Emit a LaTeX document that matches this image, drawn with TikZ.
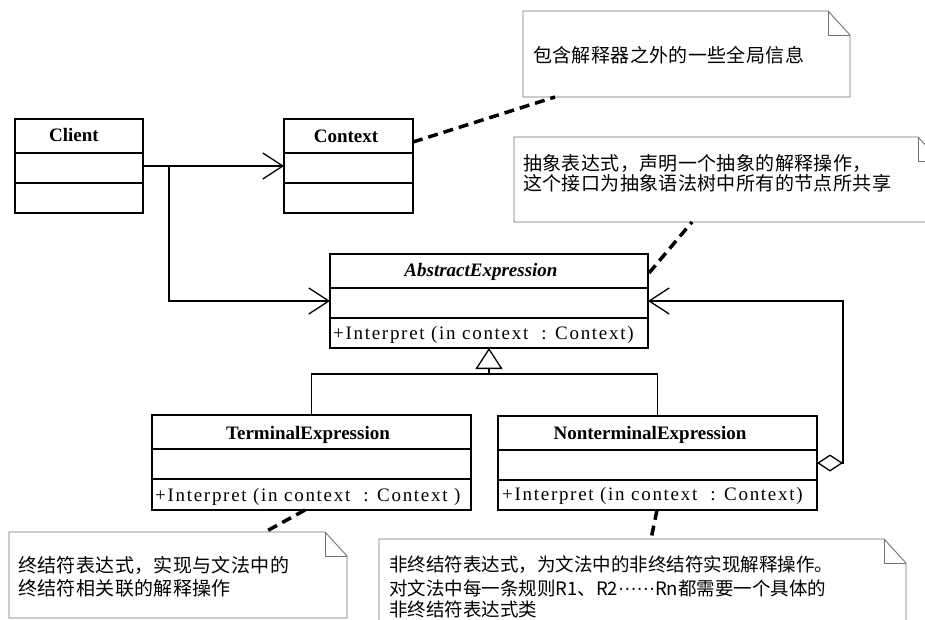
\documentclass[tikz,border=0pt]{standalone}
\usepackage{fontspec}
\setmainfont{Liberation Serif}
\newfontfamily\cjk[LetterSpace=2]{Noto Sans CJK SC}
\newfontfamily\cjkn[LetterSpace=0]{Noto Sans CJK SC}
\newfontfamily\opfont[LetterSpace=9]{Liberation Serif}
\newfontfamily\dotfont{Liberation Serif}
\usetikzlibrary{arrows.meta,calc}
\tikzset{
  clsbox/.style={draw=black,line width=1.8pt,outer sep=0pt,inner sep=0pt,fill=white},
  comp/.style={line width=1.8pt},
  ttl/.style={anchor=base,inner sep=0pt,font=\fontsize{19}{22}\selectfont\bfseries},
  ttli/.style={ttl,font=\fontsize{19}{22}\selectfont\bfseries\itshape},
  op/.style={anchor=base west,inner sep=0pt,font=\opfont\fontsize{19}{21}\selectfont},
  notebox/.style={outer sep=0pt,inner sep=0pt},
  noteline/.style={draw=gray!90!black,line width=0.9pt,fill=white},
  ntxt/.style={anchor=base west,inner sep=0pt,font=\cjk\fontsize{19}{21}\selectfont},
  ntxtn/.style={anchor=base west,inner sep=0pt,font=\cjkn\fontsize{18.5}{21}\selectfont},
  notelink/.style={line width=3.5pt,dash pattern=on 10pt off 6pt},
  conn/.style={line width=1.3pt},
  assoc/.style={conn,-{Straight Barb[length=20pt,width=26pt,line width=1.3pt]}},
  inherit/.style={conn,-{Triangle[open,length=21pt,width=27pt,fill=white,line width=1.3pt]}},
  aggr/.style={conn,{Diamond[open,length=26pt,width=17pt,fill=white,line width=1.3pt]}-{Straight Barb[length=20pt,width=26pt,line width=1.3pt]}}
}
\newcommand\drawnote[1]{%
  \draw[noteline] (#1.north west) -- ([xshift=-22pt]#1.north east) -- ([yshift=-24pt]#1.north east) -- (#1.south east) -- (#1.south west) -- cycle;
  \draw[noteline,fill=none] ([xshift=-22pt]#1.north east) |- ([yshift=-24pt]#1.north east);}
\newcommand\comps[1]{%
  \draw[comp] ($(#1.north west)+(0,34)$) -- ($(#1.north east)+(0,34)$);
  \draw[comp] ($(#1.north west)+(0,64)$) -- ($(#1.north east)+(0,64)$);}
\begin{document}
\begin{tikzpicture}[x=1pt,y=-1pt]
\useasboundingbox (0,0) rectangle (925,620);
\clip (0,0) rectangle (925,620);
\fill[white] (0,0) rectangle (925,620);

% notes
\node[notebox,minimum width=327pt,minimum height=86pt] (n1) at (686.5,54) {};
\node[notebox,minimum width=426pt,minimum height=85pt] (n2) at (727,179.5) {};
\node[notebox,minimum width=338pt,minimum height=86pt] (n3) at (178,575) {};
\node[notebox,minimum width=527pt,minimum height=101pt] (n4) at (642.5,589.5) {};
\drawnote{n1}\drawnote{n2}\drawnote{n3}\drawnote{n4}
\node[ntxt] (n1a) at (533,63) {包含解释器之外的一些全局信息};
\node[ntxt] (n2a) at (523,171) {抽象表达式，声明一个抽象的解释操作，};
\node[ntxt] (n2b) at (523,190.5) {这个接口为抽象语法树中所有的节点所共享};
\node[ntxt] (n3a) at (18,572) {终结符表达式，实现与文法中的};
\node[ntxt] (n3b) at (18,595) {终结符相关联的解释操作};
\node[ntxtn] (n4a) at (389,571.5) {非终结符表达式，为文法中的非终结符实现解释操作。};
\node[ntxtn] (n4b) at (389,595.5) {对文法中每一条规则R1、R2{\dotfont ······}Rn都需要一个具体的};
\node[ntxtn] (n4c) at (389,616.5) {非终结符表达式类};

% classes
\node[clsbox,minimum width=128pt,minimum height=94pt] (client) at (79,166) {};
\node[clsbox,minimum width=129pt,minimum height=94pt] (context) at (348.5,166) {};
\node[clsbox,minimum width=318pt,minimum height=94pt] (abstract) at (489,301) {};
\node[clsbox,minimum width=319pt,minimum height=95pt] (term) at (311.5,462.5) {};
\node[clsbox,minimum width=319pt,minimum height=94pt] (nonterm) at (657.5,463) {};
\comps{client}\comps{context}\comps{abstract}\comps{term}\comps{nonterm}

\node[ttl] (clientT) at (74,142) {Client};
\node[ttl] (contextT) at (346,143) {Context};
\node[ttli] (abstractT) at (481,276) {AbstractExpression};
\node[ttl] (termT) at (308,439) {TerminalExpression};
\node[ttl] (nontermT) at (650,439) {NonterminalExpression};
\node[op] (abstractO) at (333,339) {+Interpret (in context\ \ : Context)};
\node[op] (termO) at (155,501) {+Interpret (in context\ \ : Context )};
\node[op] (nontermO) at (502,500) {+Interpret (in context\ \ : Context)};

% connectors
\draw[assoc] (client) -- (context);
\draw[assoc] ($(client.east)+(26,0)$) |- (abstract.west);
\coordinate (j) at (489,374);
\draw[conn] (term.north) |- (j) -| (nonterm.north);
\draw[inherit] (j) -- (abstract.south);
\draw[aggr] (nonterm.east) -- ++(26,0) |- (abstract.east);

% note links
\draw[notelink] ($(context.north east)+(0,23)$) -- ($(n1.south west)+(32,0)$);
\draw[notelink] ($(abstract.north east)+(1,19)$) -- ($(n2.south west)+(178,0)$);
\draw[notelink] ($(term.south west)+(153,0)$) -- ($(n3.north west)+(256,0)$);
\draw[notelink] ($(nonterm.south west)+(159,0)$) -- ($(n4.north west)+(272,0)$);
\end{tikzpicture}
\end{document}
